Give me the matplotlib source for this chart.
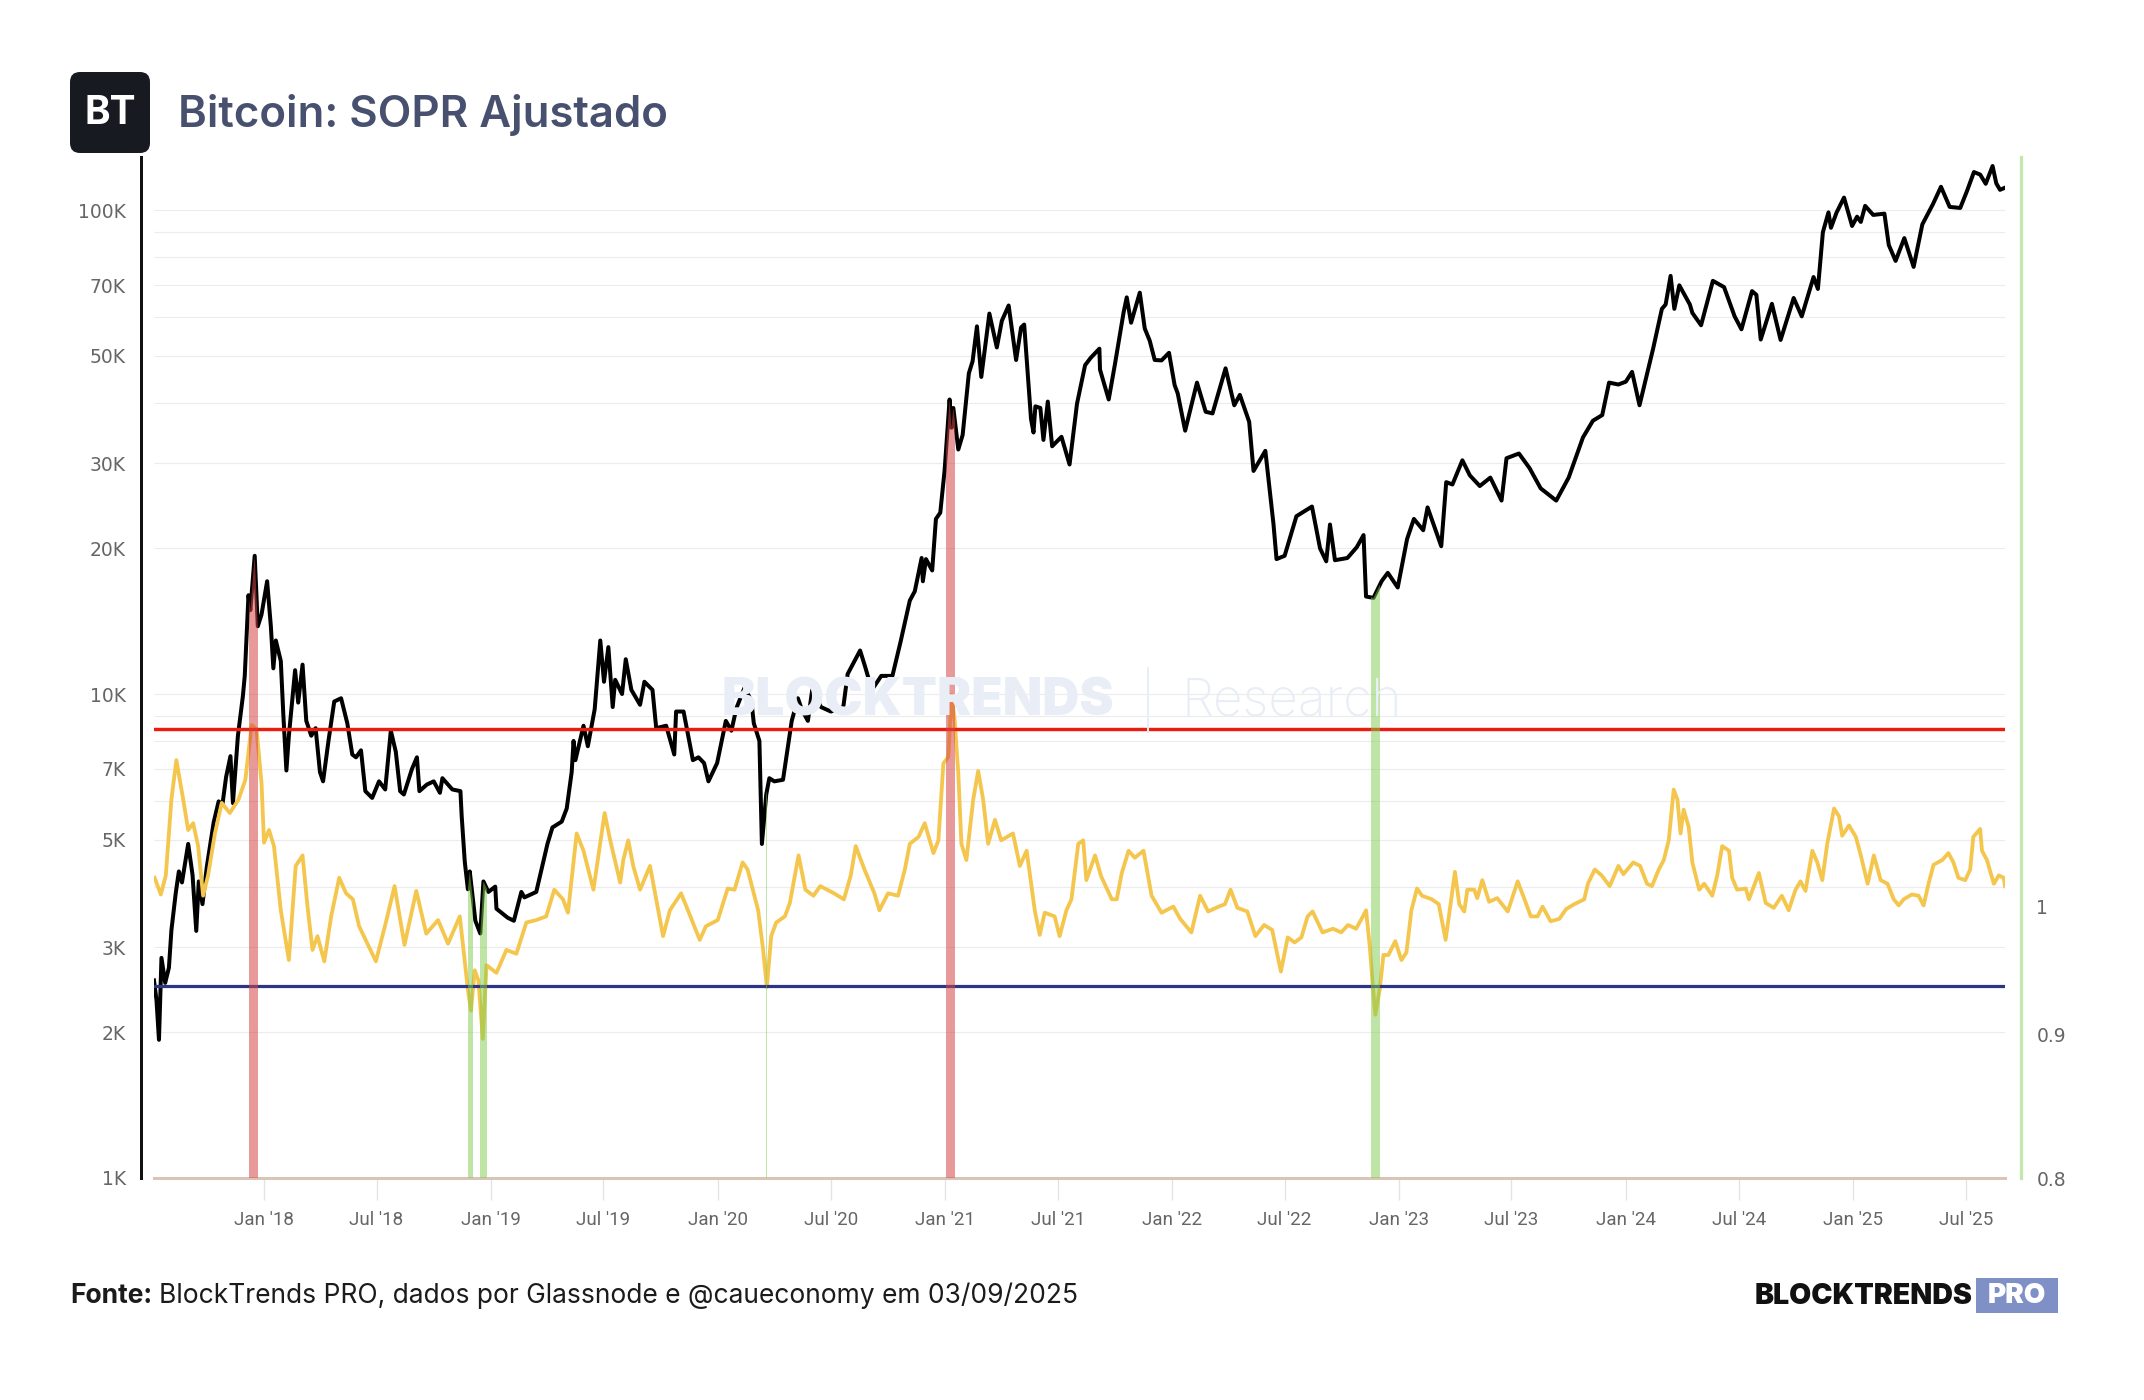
import matplotlib
matplotlib.use("Agg")
import matplotlib.pyplot as plt
import matplotlib.dates as mdates
from matplotlib.patches import FancyBboxPatch
from matplotlib.transforms import IdentityTransform
from matplotlib.ticker import FixedLocator, NullFormatter
import pandas as pd

# --- data --------------------------------------------------------------------
price_dates = [
    "2017-07-08", "2017-07-12", "2017-07-16", "2017-07-20", "2017-07-26", "2017-08-01", "2017-08-05",
    "2017-08-12", "2017-08-17", "2017-08-22", "2017-09-01", "2017-09-08", "2017-09-14", "2017-09-18",
    "2017-09-24", "2017-10-01", "2017-10-12", "2017-10-20", "2017-10-26", "2017-11-01", "2017-11-08",
    "2017-11-12", "2017-11-20", "2017-11-28", "2017-12-01", "2017-12-07", "2017-12-10", "2017-12-17",
    "2017-12-22", "2017-12-28", "2018-01-06", "2018-01-12", "2018-01-16", "2018-01-20", "2018-01-28",
    "2018-02-01", "2018-02-06", "2018-02-10", "2018-02-20", "2018-02-25", "2018-03-04", "2018-03-10",
    "2018-03-18", "2018-03-25", "2018-04-01", "2018-04-06", "2018-04-15", "2018-04-24", "2018-05-05",
    "2018-05-15", "2018-05-23", "2018-05-29", "2018-06-06", "2018-06-13", "2018-06-24", "2018-07-05",
    "2018-07-15", "2018-07-24", "2018-08-01", "2018-08-08", "2018-08-14", "2018-08-27", "2018-09-04",
    "2018-09-08", "2018-09-20", "2018-10-01", "2018-10-11", "2018-10-15", "2018-10-31", "2018-11-13",
    "2018-11-15", "2018-11-20", "2018-11-25", "2018-11-28", "2018-12-07", "2018-12-15", "2018-12-20",
    "2018-12-28", "2019-01-08", "2019-01-10", "2019-01-28", "2019-02-07", "2019-02-19", "2019-02-24",
    "2019-03-15", "2019-04-02", "2019-04-10", "2019-04-25", "2019-05-03", "2019-05-11", "2019-05-14",
    "2019-05-17", "2019-05-30", "2019-06-06", "2019-06-17", "2019-06-26", "2019-07-02", "2019-07-09",
    "2019-07-16", "2019-07-20", "2019-07-31", "2019-08-06", "2019-08-15", "2019-08-29", "2019-09-05",
    "2019-09-18", "2019-09-24", "2019-10-10", "2019-10-23", "2019-10-26", "2019-11-07", "2019-11-22",
    "2019-12-01", "2019-12-10", "2019-12-17", "2019-12-31", "2020-01-14", "2020-01-23", "2020-01-31",
    "2020-02-13", "2020-02-24", "2020-02-28", "2020-03-08", "2020-03-12", "2020-03-19", "2020-03-24",
    "2020-04-01", "2020-04-15", "2020-04-29", "2020-05-09", "2020-05-15", "2020-05-25", "2020-06-01",
    "2020-06-15", "2020-07-01", "2020-07-21", "2020-07-28", "2020-08-17", "2020-08-25", "2020-09-05",
    "2020-09-20", "2020-10-08", "2020-10-21", "2020-11-05", "2020-11-13", "2020-11-24", "2020-11-26",
    "2020-12-01", "2020-12-11", "2020-12-17", "2020-12-24", "2020-12-31", "2021-01-08", "2021-01-11",
    "2021-01-14", "2021-01-22", "2021-01-29", "2021-02-08", "2021-02-14", "2021-02-21", "2021-02-28",
    "2021-03-13", "2021-03-25", "2021-04-02", "2021-04-13", "2021-04-25", "2021-05-03", "2021-05-08",
    "2021-05-12", "2021-05-19", "2021-05-23", "2021-05-26", "2021-06-03", "2021-06-08", "2021-06-15",
    "2021-06-22", "2021-07-07", "2021-07-20", "2021-08-01", "2021-08-14", "2021-08-23", "2021-09-06",
    "2021-09-07", "2021-09-21", "2021-10-01", "2021-10-15", "2021-10-20", "2021-10-27", "2021-11-10",
    "2021-11-18", "2021-11-26", "2021-12-04", "2021-12-15", "2021-12-27", "2022-01-05", "2022-01-10",
    "2022-01-22", "2022-02-10", "2022-02-24", "2022-03-07", "2022-03-28", "2022-04-11", "2022-04-20",
    "2022-05-05", "2022-05-12", "2022-05-31", "2022-06-13", "2022-06-18", "2022-07-01", "2022-07-20",
    "2022-08-14", "2022-08-27", "2022-09-06", "2022-09-12", "2022-09-20", "2022-10-10", "2022-10-25",
    "2022-11-05", "2022-11-09", "2022-11-21", "2022-12-04", "2022-12-14", "2022-12-30", "2023-01-14",
    "2023-01-25", "2023-02-09", "2023-02-16", "2023-03-10", "2023-03-18", "2023-03-28", "2023-04-13",
    "2023-04-25", "2023-05-11", "2023-05-28", "2023-06-15", "2023-06-23", "2023-07-13", "2023-07-30",
    "2023-08-17", "2023-09-11", "2023-10-01", "2023-10-24", "2023-11-09", "2023-11-24", "2023-12-05",
    "2023-12-20", "2024-01-01", "2024-01-11", "2024-01-23", "2024-02-14", "2024-02-28", "2024-03-05",
    "2024-03-13", "2024-03-19", "2024-03-27", "2024-04-13", "2024-04-17", "2024-05-01", "2024-05-20",
    "2024-06-07", "2024-06-24", "2024-07-05", "2024-07-22", "2024-07-29", "2024-08-05", "2024-08-23",
    "2024-09-06", "2024-09-27", "2024-10-10", "2024-10-29", "2024-11-05", "2024-11-13", "2024-11-22",
    "2024-11-26", "2024-12-05", "2024-12-17", "2024-12-30", "2025-01-07", "2025-01-13", "2025-01-20",
    "2025-02-02", "2025-02-20", "2025-02-27", "2025-03-10", "2025-03-24", "2025-04-08", "2025-04-22",
    "2025-05-09", "2025-05-22", "2025-06-05", "2025-06-22", "2025-07-03", "2025-07-14", "2025-07-24",
    "2025-08-02", "2025-08-13", "2025-08-19", "2025-08-25", "2025-09-02",
]
price = [
    2560, 2330, 1930, 2850, 2530, 2720, 3250,
    3880, 4300, 4080, 4900, 4230, 3240, 4100,
    3680, 4400, 5430, 6000, 5900, 6740, 7440,
    5950, 8200, 9900, 10900, 16000, 14900, 19300,
    13800, 14600, 17100, 13800, 11300, 12900, 11700,
    9100, 6950, 8200, 11200, 9600, 11500, 8800,
    8200, 8500, 6900, 6600, 8050, 9650, 9800,
    8700, 7500, 7400, 7650, 6300, 6100, 6600,
    6350, 8400, 7600, 6300, 6200, 7000, 7400,
    6300, 6500, 6600, 6250, 6700, 6350, 6300,
    5600, 4500, 3950, 4300, 3400, 3200, 4100,
    3900, 4000, 3600, 3450, 3400, 3900, 3800,
    3900, 4900, 5300, 5450, 5800, 6900, 8000,
    7300, 8600, 7800, 9300, 12900, 10600, 12500,
    9400, 10700, 10000, 11800, 10200, 9500, 10600,
    10200, 8500, 8600, 7500, 9200, 9200, 7300,
    7400, 7200, 6600, 7200, 8800, 8400, 9350,
    10300, 9700, 8700, 8000, 4900, 6200, 6700,
    6600, 6650, 8800, 9800, 9300, 8800, 10200,
    9400, 9200, 9400, 11000, 12300, 11400, 10200,
    10900, 10900, 12800, 15600, 16300, 19100, 17100,
    19000, 18000, 23000, 23700, 29000, 40600, 35500,
    39000, 32000, 34300, 46000, 48700, 57500, 45200,
    61100, 52000, 59000, 63500, 49000, 57200, 58000,
    49200, 37000, 34700, 39300, 39000, 33500, 40200,
    32500, 34000, 29800, 39800, 47800, 49500, 51700,
    46800, 40600, 48000, 61500, 66000, 58500, 67500,
    56900, 53700, 49000, 48900, 50700, 43500, 41800,
    35000, 44000, 38300, 38000, 47100, 39500, 41500,
    36500, 28900, 31800, 22500, 19000, 19300, 23300,
    24400, 20000, 18800, 22400, 18900, 19100, 20100,
    21300, 15900, 15800, 17100, 17800, 16600, 20900,
    23000, 21800, 24300, 20200, 27400, 27100, 30400,
    28300, 26900, 28000, 25100, 30700, 31400, 29300,
    26600, 25100, 28000, 33900, 36700, 37700, 44000,
    43600, 44200, 46300, 39500, 51800, 62500, 63800,
    73100, 62500, 69900, 63800, 61300, 57800, 71400,
    69300, 60300, 56700, 68000, 66800, 54000, 64000,
    53900, 65800, 60300, 72700, 68700, 90000, 98900,
    91900, 98800, 106100, 92700, 96900, 94500, 102000,
    97700, 98300, 84700, 78500, 87500, 76300, 93400,
    102800, 111700, 101500, 101000, 109600, 119800, 118400,
    113300, 123300, 113500, 110100, 111200,
]

sopr_dates = [
    "2017-07-09", "2017-07-19", "2017-07-27", "2017-08-05", "2017-08-13", "2017-08-24", "2017-09-01",
    "2017-09-09", "2017-09-17", "2017-09-25", "2017-10-03", "2017-10-14", "2017-10-25", "2017-11-07",
    "2017-11-21", "2017-12-02", "2017-12-12", "2017-12-20", "2017-12-28", "2018-01-01", "2018-01-09",
    "2018-01-17", "2018-01-28", "2018-02-10", "2018-02-21", "2018-03-04", "2018-03-12", "2018-03-20",
    "2018-03-28", "2018-04-08", "2018-04-19", "2018-05-02", "2018-05-13", "2018-05-24", "2018-06-03",
    "2018-06-30", "2018-07-16", "2018-07-30", "2018-08-15", "2018-09-03", "2018-09-19", "2018-10-08",
    "2018-10-24", "2018-11-12", "2018-11-25", "2018-11-30", "2018-12-06", "2018-12-12", "2018-12-19",
    "2018-12-25", "2019-01-10", "2019-01-26", "2019-02-11", "2019-02-27", "2019-03-15", "2019-03-31",
    "2019-04-13", "2019-04-27", "2019-05-05", "2019-05-19", "2019-05-30", "2019-06-15", "2019-07-03",
    "2019-07-12", "2019-07-28", "2019-08-02", "2019-08-10", "2019-08-18", "2019-08-29", "2019-09-14",
    "2019-10-05", "2019-10-16", "2019-11-03", "2019-11-14", "2019-12-03", "2019-12-13", "2020-01-01",
    "2020-01-17", "2020-01-28", "2020-02-10", "2020-02-18", "2020-03-06", "2020-03-14", "2020-03-20",
    "2020-03-27", "2020-04-04", "2020-04-18", "2020-04-26", "2020-05-10", "2020-05-21", "2020-06-03",
    "2020-06-14", "2020-07-06", "2020-07-22", "2020-08-02", "2020-08-10", "2020-08-24", "2020-09-09",
    "2020-09-17", "2020-10-01", "2020-10-17", "2020-10-28", "2020-11-05", "2020-11-19", "2020-11-29",
    "2020-12-13", "2020-12-21", "2020-12-29", "2021-01-06", "2021-01-11", "2021-01-16", "2021-01-22",
    "2021-01-27", "2021-02-04", "2021-02-15", "2021-02-23", "2021-03-03", "2021-03-11", "2021-03-22",
    "2021-04-01", "2021-04-20", "2021-05-01", "2021-05-12", "2021-05-25", "2021-06-02", "2021-06-10",
    "2021-06-26", "2021-07-04", "2021-07-15", "2021-07-23", "2021-08-03", "2021-08-11", "2021-08-16",
    "2021-08-30", "2021-09-09", "2021-09-26", "2021-10-04", "2021-10-12", "2021-10-23", "2021-11-02",
    "2021-11-16", "2021-11-29", "2021-12-15", "2022-01-03", "2022-01-14", "2022-02-01", "2022-02-15",
    "2022-02-28", "2022-03-17", "2022-03-27", "2022-04-05", "2022-04-16", "2022-05-02", "2022-05-15",
    "2022-05-29", "2022-06-11", "2022-06-25", "2022-07-06", "2022-07-17", "2022-07-28", "2022-08-07",
    "2022-08-15", "2022-08-31", "2022-09-17", "2022-09-30", "2022-10-11", "2022-10-24", "2022-11-04",
    "2022-11-09", "2022-11-15", "2022-11-20", "2022-11-24", "2022-12-01", "2022-12-07", "2022-12-15",
    "2022-12-26", "2023-01-05", "2023-01-13", "2023-01-21", "2023-01-30", "2023-02-07", "2023-02-23",
    "2023-03-06", "2023-03-17", "2023-03-25", "2023-04-01", "2023-04-08", "2023-04-16", "2023-04-21",
    "2023-05-02", "2023-05-07", "2023-05-15", "2023-05-26", "2023-06-08", "2023-06-25", "2023-07-11",
    "2023-07-22", "2023-08-01", "2023-08-12", "2023-08-20", "2023-09-02", "2023-09-16", "2023-09-27",
    "2023-10-10", "2023-10-26", "2023-11-01", "2023-11-12", "2023-11-23", "2023-12-06", "2023-12-20",
    "2023-12-28", "2024-01-13", "2024-01-24", "2024-02-04", "2024-02-12", "2024-02-23", "2024-03-02",
    "2024-03-10", "2024-03-18", "2024-03-24", "2024-03-29", "2024-04-03", "2024-04-11", "2024-04-17",
    "2024-04-28", "2024-05-06", "2024-05-19", "2024-05-27", "2024-06-04", "2024-06-15", "2024-06-20",
    "2024-06-28", "2024-07-12", "2024-07-17", "2024-08-02", "2024-08-13", "2024-08-26", "2024-09-08",
    "2024-09-19", "2024-09-30", "2024-10-08", "2024-10-16", "2024-10-27", "2024-11-04", "2024-11-12",
    "2024-11-20", "2024-12-01", "2024-12-09", "2024-12-14", "2024-12-25", "2025-01-05", "2025-01-13",
    "2025-01-24", "2025-02-03", "2025-02-14", "2025-02-25", "2025-03-07", "2025-03-15", "2025-03-23",
    "2025-04-05", "2025-04-16", "2025-04-24", "2025-05-02", "2025-05-10", "2025-05-24", "2025-06-03",
    "2025-06-11", "2025-06-19", "2025-06-30", "2025-07-08", "2025-07-13", "2025-07-24", "2025-07-27",
    "2025-08-04", "2025-08-15", "2025-08-23", "2025-08-31", "2025-09-02",
]
sopr = [
    1.024, 1.010, 1.026, 1.092, 1.128, 1.092, 1.065,
    1.071, 1.051, 1.009, 1.026, 1.062, 1.089, 1.080,
    1.092, 1.110, 1.161, 1.157, 1.107, 1.054, 1.065,
    1.051, 0.997, 0.957, 1.034, 1.043, 1.000, 0.965,
    0.976, 0.956, 0.992, 1.024, 1.011, 1.006, 0.984,
    0.956, 0.987, 1.017, 0.969, 1.013, 0.978, 0.989,
    0.970, 0.992, 0.934, 0.918, 0.949, 0.941, 0.897,
    0.953, 0.947, 0.965, 0.962, 0.987, 0.989, 0.992,
    1.014, 1.006, 0.995, 1.062, 1.047, 1.014, 1.080,
    1.056, 1.020, 1.039, 1.056, 1.034, 1.014, 1.034,
    0.976, 0.997, 1.011, 0.997, 0.973, 0.984, 0.989,
    1.015, 1.014, 1.037, 1.031, 0.997, 0.965, 0.936,
    0.976, 0.987, 0.992, 1.003, 1.043, 1.014, 1.009,
    1.017, 1.011, 1.006, 1.026, 1.051, 1.031, 1.011,
    0.997, 1.011, 1.009, 1.031, 1.053, 1.059, 1.071,
    1.045, 1.056, 1.125, 1.131, 1.190, 1.167, 1.116,
    1.053, 1.039, 1.092, 1.118, 1.092, 1.053, 1.074,
    1.056, 1.062, 1.034, 1.047, 0.997, 0.977, 0.995,
    0.992, 0.976, 0.997, 1.006, 1.053, 1.056, 1.022,
    1.043, 1.025, 1.006, 1.006, 1.028, 1.047, 1.041,
    1.047, 1.009, 0.995, 1.000, 0.990, 0.979, 1.009,
    0.996, 1.000, 1.002, 1.014, 0.999, 0.996, 0.976,
    0.985, 0.981, 0.948, 0.975, 0.971, 0.975, 0.992,
    0.996, 0.979, 0.982, 0.979, 0.985, 0.982, 0.992,
    0.997, 0.968, 0.936, 0.915, 0.934, 0.961, 0.961,
    0.972, 0.957, 0.963, 0.997, 1.015, 1.009, 1.006,
    1.002, 0.973, 1.002, 1.029, 1.002, 0.996, 1.014,
    1.014, 1.007, 1.022, 1.004, 1.007, 0.996, 1.021,
    1.006, 0.992, 0.992, 1.000, 0.988, 0.990, 0.998,
    1.002, 1.006, 1.019, 1.031, 1.026, 1.017, 1.034,
    1.027, 1.037, 1.034, 1.019, 1.017, 1.031, 1.039,
    1.056, 1.101, 1.092, 1.062, 1.083, 1.068, 1.037,
    1.014, 1.019, 1.009, 1.026, 1.051, 1.047, 1.024,
    1.014, 1.015, 1.006, 1.028, 1.003, 0.999, 1.009,
    0.997, 1.014, 1.021, 1.013, 1.047, 1.037, 1.022,
    1.053, 1.084, 1.077, 1.060, 1.069, 1.059, 1.043,
    1.019, 1.043, 1.022, 1.019, 1.006, 1.001, 1.006,
    1.010, 1.009, 1.001, 1.019, 1.035, 1.039, 1.045,
    1.037, 1.024, 1.022, 1.031, 1.059, 1.066, 1.047,
    1.039, 1.019, 1.026, 1.024, 1.017,
]

sopr_high = 1.157
sopr_low = 0.937

red_zones = [("2017-12-08", "2017-12-22"), ("2021-01-03", "2021-01-17")]
green_zones = [("2018-11-25", "2018-12-04"), ("2018-12-15", "2018-12-25"),
               ("2020-03-19", "2020-03-21"), ("2022-11-17", "2022-12-01")]

price_ticks = [1000, 2000, 3000, 5000, 7000, 10000, 20000, 30000, 50000, 70000, 100000]
price_labels = ["1K", "2K", "3K", "5K", "7K", "10K", "20K", "30K", "50K", "70K", "100K"]
price_grid = [1000, 2000, 3000, 4000, 5000, 6000, 7000, 8000, 9000,
              10000, 20000, 30000, 40000, 50000, 60000, 70000, 80000, 90000, 100000]
sopr_ticks = [0.8, 0.9, 1.0]
sopr_labels = ["0.8", "0.9", "1"]

# -----------------------------------------------------------------------------
W, H = 2144, 1400
fig = plt.figure(figsize=(W / 100, H / 100), dpi=100)
fig.patch.set_facecolor("white")

px = 72 / 100  # points per pixel
ax = fig.add_axes([154 / W, 1 - 1178 / H, (2005 - 154) / W, (1178 - 157) / H])
ax2 = ax.twinx()

pd_price = pd.to_datetime(price_dates)
pd_sopr = pd.to_datetime(sopr_dates)

tick_font = "Roboto"
lab_col = "#666666"

# price axis
ax.set_yscale("log")
ax.set_ylim(1000, 128700)
ax.plot(pd_price, price, color="black", lw=4 * px, zorder=3, solid_joinstyle="round")
ax.yaxis.set_major_locator(FixedLocator(price_ticks))
ax.set_yticklabels(price_labels)
ax.yaxis.set_minor_locator(FixedLocator(price_grid))
ax.yaxis.set_minor_formatter(NullFormatter())
ax.grid(axis="y", which="both", color="#ececec", lw=1.2 * px)
ax.set_axisbelow(True)
ax.tick_params(axis="y", which="both", length=0, pad=11, labelsize=13.5, labelcolor=lab_col)
for t in ax.get_yticklabels():
    t.set_family(tick_font)

# x axis
ax.set_xlim(pd_price[0], pd_price[-1])
ax.xaxis.set_major_locator(mdates.MonthLocator(bymonth=[1, 7]))
ax.xaxis.set_major_formatter(mdates.DateFormatter("%b '%y"))
ax.tick_params(axis="x", length=22 * px, width=1.3 * px, color="#e3e3e3", pad=8,
               labelsize=13.5, labelcolor=lab_col)
for t in ax.get_xticklabels():
    t.set_family(tick_font)

ax.spines["top"].set_visible(False)
ax.spines["right"].set_visible(False)
ax.spines["left"].set_position(("outward", 13 * px))
ax.spines["left"].set_color("#111111")
ax.spines["left"].set_linewidth(3 * px)
ax.spines["bottom"].set_color("#d9c4b8")
ax.spines["bottom"].set_linewidth(3 * px)

# SOPR axis
ax2.set_yscale("log")
ax2.set_ylim(0.8, 1.8522)
ax2.plot(pd_sopr, sopr, color="#f4c64d", lw=3.8 * px, zorder=2, solid_joinstyle="round")
ax2.axhline(sopr_high, color="#ea1d0c", lw=3.4 * px, zorder=3)
ax2.axhline(sopr_low, color="#2c3484", lw=3.2 * px, zorder=3)
ax2.yaxis.set_major_locator(FixedLocator(sopr_ticks))
ax2.set_yticklabels(sopr_labels)
ax2.yaxis.set_minor_locator(FixedLocator([]))
ax2.tick_params(axis="y", length=0, pad=11, labelsize=13.5, labelcolor=lab_col)
for t in ax2.get_yticklabels():
    t.set_family(tick_font)
for s in ["left", "top", "bottom"]:
    ax2.spines[s].set_visible(False)
ax2.spines["right"].set_position(("outward", 16 * px))
ax2.spines["right"].set_color("#c4e7ae")
ax2.spines["right"].set_linewidth(3.2 * px)

# highlighted zones, drawn under the price curve only
under = ax.fill_between(pd_price, 1000, price, color="none", lw=0)
clip = under.get_paths()[0]
for zones, col in [(red_zones, (0.84, 0.27, 0.27, 0.55)), (green_zones, (0.50, 0.80, 0.31, 0.5))]:
    for d0, d1 in zones:
        span = ax2.axvspan(pd.Timestamp(d0), pd.Timestamp(d1), color=col, lw=0, zorder=5)
        span.set_clip_path(clip, ax.transData)

# watermark
fig.text(918 / W, 1 - 702 / H, "BLOCKTRENDS", ha="center", va="center", fontsize=37,
         fontweight="black", family="Inter", color="#e9eef6", zorder=0)
fig.text(1292 / W, 1 - 702 / H, "Research", ha="center", va="center", fontsize=37,
         fontweight="light", family="Inter", color="#e9eef6", zorder=0)
fig.add_artist(plt.Line2D([1148 / W, 1148 / W], [1 - 668 / H, 1 - 732 / H],
                          color="#e9eef6", lw=2 * px, transform=fig.transFigure))

# header
logo = FancyBboxPatch((70, H - 153), 80, 81, boxstyle="round,pad=0,rounding_size=10",
                      transform=IdentityTransform(), facecolor="#171a21", edgecolor="none")
fig.add_artist(logo)
fig.text(110 / W, 1 - 114 / H, "BT", ha="center", va="center", fontsize=28,
         fontweight="bold", family="Inter", color="white")
fig.text(178 / W, 1 - 115 / H, "Bitcoin: SOPR Ajustado", ha="left", va="center",
         fontsize=31.5, fontweight="semibold", family="Inter", color="#47506e")

# footer
fig.canvas.draw()
r = fig.canvas.get_renderer()
f1 = fig.text(70 / W, 1 - 1296 / H, "Fonte:", ha="left", va="center", fontsize=19,
              fontweight="bold", family="Inter", color="#1b1b1b")
bb = f1.get_window_extent(renderer=r)
fig.text((bb.x1 + 7) / W, 1 - 1296 / H,
         "BlockTrends PRO, dados por Glassnode e @caueconomy em 03/09/2025",
         ha="left", va="center", fontsize=19, family="Inter", color="#1b1b1b")

fig.add_artist(FancyBboxPatch((1976, H - 1313), 82, 35, boxstyle="square,pad=0",
                              transform=IdentityTransform(), facecolor="#7f90c7",
                              edgecolor="none"))
fig.text(2017 / W, 1 - 1296 / H, "PRO", ha="center", va="center", fontsize=20,
         fontweight="black", family="Inter", color="white")
fig.text(1972 / W, 1 - 1296 / H, "BLOCKTRENDS", ha="right", va="center", fontsize=20.5,
         fontweight="black", family="Inter", color="#111111")

fig.savefig("out.png", dpi=100, facecolor="white")
